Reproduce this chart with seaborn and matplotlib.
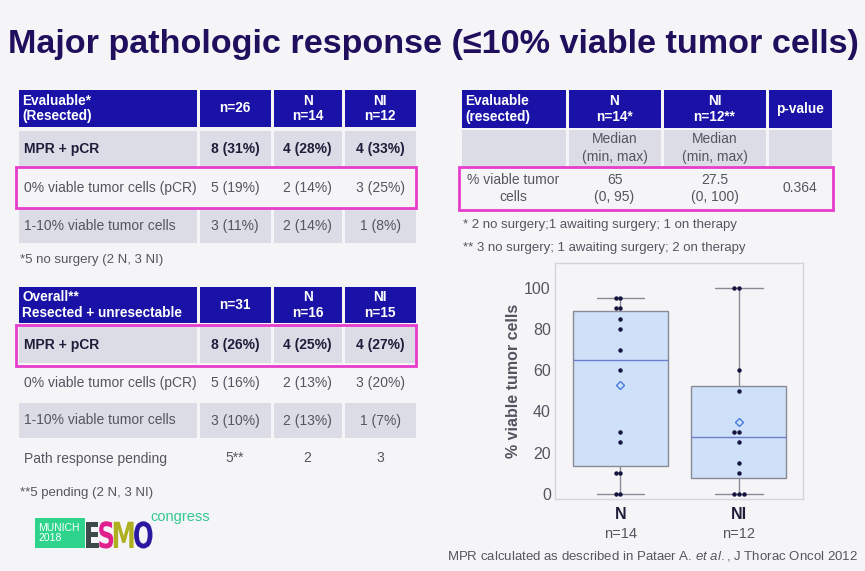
import matplotlib
matplotlib.use('Agg')
import matplotlib.pyplot as plt
from matplotlib.patches import Rectangle, PathPatch
from matplotlib.textpath import TextPath
from matplotlib.font_manager import FontProperties
from matplotlib.transforms import Affine2D
import seaborn as sns
import pandas as pd

# --- data ---
title = 'Major pathologic response (\u226410% viable tumor cells)'

t1_header = ['Evaluable*\n(Resected)', 'n=26', 'N\nn=14', 'NI\nn=12']
t1_labels = ['MPR + pCR', '0% viable tumor cells (pCR)', '1-10% viable tumor cells']
t1_all = ['8 (31%)', '5 (19%)', '3 (11%)']
t1_n = ['4 (28%)', '2 (14%)', '2 (14%)']
t1_ni = ['4 (33%)', '3 (25%)', '1 (8%)']
t1_note = '*5 no surgery (2 N, 3 NI)'

t2_header = ['Overall**\nResected + unresectable', 'n=31', 'N\nn=16', 'NI\nn=15']
t2_labels = ['MPR + pCR', '0% viable tumor cells (pCR)', '1-10% viable tumor cells',
             'Path response pending']
t2_all = ['8 (26%)', '5 (16%)', '3 (10%)', '5**']
t2_n = ['4 (25%)', '2 (13%)', '2 (13%)', '2']
t2_ni = ['4 (27%)', '3 (20%)', '1 (7%)', '3']
t2_note = '**5 pending (2 N, 3 NI)'

t3_header = ['Evaluable\n(resected)', 'N\nn=14*', 'NI\nn=12**', 'p-value']
t3_sub = ['', 'Median\n(min, max)', 'Median\n(min, max)', '']
t3_row = ['% viable tumor\ncells', '65\n(0, 95)', '27.5\n(0, 100)', '0.364']
t3_notes = ['* 2 no surgery;1 awaiting surgery; 1 on therapy',
            '** 3 no surgery; 1 awaiting surgery; 2 on therapy']

arms = ['N', 'NI']
arm_n = [14, 12]
viable_N = [0, 0, 10, 10, 25, 30, 60, 70, 80, 85, 90, 90, 95, 95]
viable_NI = [0, 0, 0, 10, 15, 25, 30, 30, 50, 60, 100, 100]

caption = 'MPR calculated as described in Pataer A. $\\it{et\\ al.}$, J Thorac Oncol 2012'

# --- style ---
sns.set_style('white')
plt.rcParams['font.family'] = ['Liberation Sans', 'DejaVu Sans']
plt.rcParams['mathtext.fontset'] = 'custom'
plt.rcParams['mathtext.rm'] = 'Liberation Sans'
plt.rcParams['mathtext.it'] = 'Liberation Sans:italic'

BG = '#f5f5f8'
HEAD = '#1a12a6'
GRAY = '#dcdce7'
PINK = '#e83ccc'
DARK = '#1e1e3a'
TXT = '#555560'

W, H = 865, 571
fig = plt.figure(figsize=(8.65, 5.71), dpi=100, facecolor=BG)

# overlay axes in pixel coordinates for the slide content
ov = fig.add_axes([0, 0, 1, 1])
ov.set_xlim(0, W)
ov.set_ylim(H, 0)
ov.axis('off')

ov.text(8, 44, title, fontsize=24.6, fontweight='bold', color='#1f0f5c',
        va='center', ha='left')


def draw_table(header, rows, xedges, head_y, row_ys, row_bg, row_bold, left_first=True):
    gap = 1.5
    for j in range(4):
        x0, x1 = xedges[j] + gap, xedges[j + 1] - gap
        ov.add_patch(Rectangle((x0, head_y[0]), x1 - x0, head_y[1] - head_y[0],
                               facecolor=HEAD, edgecolor='none'))
        if j == 0:
            ov.text(x0 + 4, (head_y[0] + head_y[1]) / 2, header[j], color='white',
                    fontsize=9.8, fontweight='bold', va='center', ha='left',
                    linespacing=1.15)
        else:
            ov.text((x0 + x1) / 2, (head_y[0] + head_y[1]) / 2, header[j],
                    color='white', fontsize=9.8, fontweight='bold', va='center',
                    ha='center', linespacing=1.15)
    for i, row in enumerate(rows):
        y0, y1 = row_ys[i]
        for j in range(4):
            x0, x1 = xedges[j] + gap, xedges[j + 1] - gap
            if row_bg[i]:
                ov.add_patch(Rectangle((x0, y0), x1 - x0, y1 - y0,
                                       facecolor=GRAY, edgecolor='none'))
            col = DARK if row_bold[i] else TXT
            fw = 'bold' if row_bold[i] else 'normal'
            if j == 0 and left_first:
                ov.text(x0 + 6, (y0 + y1) / 2, row[j], color=col, fontsize=10,
                        fontweight=fw, va='center', ha='left')
            else:
                ov.text((x0 + x1) / 2, (y0 + y1) / 2, row[j], color=col,
                        fontsize=10, fontweight=fw, va='center', ha='center',
                        linespacing=1.35)


def pink_box(x0, x1, y0, y1):
    ov.add_patch(Rectangle((x0, y0), x1 - x0, y1 - y0, facecolor='none',
                           edgecolor=PINK, lw=2))


# table 1
xl = [17, 198, 272, 343, 417]
rows1 = [list(r) for r in zip(t1_labels, t1_all, t1_n, t1_ni)]
draw_table(t1_header, rows1, xl, (90, 127),
           [(131, 166), (170, 206), (209, 243)],
           [True, False, True], [True, False, False])
pink_box(16, 416, 167, 208)
ov.text(20, 260, t1_note, fontsize=9.5, color=TXT, va='center')

# table 2
rows2 = [list(r) for r in zip(t2_labels, t2_all, t2_n, t2_ni)]
draw_table(t2_header, rows2, xl, (287, 323),
           [(326, 363), (366, 400), (403, 438), (441, 476)],
           [True, False, True, False], [True, False, False, False])
pink_box(16, 416, 325, 366)
ov.text(20, 493, t2_note, fontsize=9.5, color=TXT, va='center')

# table 3
xr = [460, 567, 662, 767, 833]
draw_table(t3_header, [t3_sub, t3_row], xr, (90, 128),
           [(130, 166), (168, 209)], [True, False], [False, False],
           left_first=False)
pink_box(459, 833, 167, 210)
for k, note in enumerate(t3_notes):
    ov.text(463, 225 + 23 * k, note, fontsize=9.5, color=TXT, va='center')

# logo: green tag, condensed ESMO letters, "congress"
ov.add_patch(Rectangle((35, 518), 50, 30, facecolor='#2ed48c', edgecolor='none'))
ov.text(38, 533, 'MUNICH\n2018', color='white', fontsize=7.5, va='center',
        ha='left', linespacing=1.0)
fp = FontProperties(family='DejaVu Sans', weight='bold')
xpos = 86
for ch, c in zip('ESMO', ['#3d4a4a', '#e0208c', '#aeb020', '#2a18a0']):
    tp = TextPath((0, 0), ch, size=36, prop=fp)
    ext = tp.get_extents()
    tr = Affine2D().translate(-ext.x0, 0).scale(0.68, -1).translate(xpos, 548)
    ov.add_patch(PathPatch(tr.transform_path(tp), facecolor=c, edgecolor='none'))
    xpos += ext.width * 0.68 + 0.5
ov.text(xpos - 3, 517, 'congress', color='#30c890', fontsize=10.5, va='center',
        ha='left')

ov.text(858, 556, caption, fontsize=9.5, color=TXT, va='center', ha='right')

# --- boxplot ---
df = pd.DataFrame({
    'arm': ['N'] * len(viable_N) + ['NI'] * len(viable_NI),
    'viable': viable_N + viable_NI,
})

ax = fig.add_axes([555 / W, (H - 499) / H, 248 / W, (499 - 263) / H])
ax.set_facecolor(BG)
sns.boxplot(data=df, x='arm', y='viable', order=arms, whis=(0, 100), width=0.8,
            color='#cfe1f8', saturation=1, linecolor='#8a8a96', linewidth=1,
            fliersize=0, showmeans=True,
            meanprops=dict(marker='D', markerfacecolor='none',
                           markeredgecolor='#4a7ae0', markersize=4.5),
            medianprops=dict(color='#6a7ed0', linewidth=1),
            ax=ax)
sns.swarmplot(data=df, x='arm', y='viable', order=arms, color='#15153f',
              size=3.2, ax=ax)

ax.set_xlim(-0.55, 1.54)
ax.set_ylim(-2.5, 112)
ax.set_yticks([0, 20, 40, 60, 80, 100])
ax.tick_params(axis='y', labelsize=11.5, labelcolor=TXT, length=0, pad=3)
ax.tick_params(axis='x', labelsize=11.5, length=0, pad=6)
ax.set_xticks([0, 1])
ax.set_xticklabels(arms, fontweight='bold', color=DARK)
for i, n in enumerate(arm_n):
    ax.annotate(f'n={n}', xy=(i, 0), xycoords=('data', 'axes fraction'),
                xytext=(0, -25), textcoords='offset points', ha='center',
                va='center', fontsize=10.5, color=TXT)
ax.set_xlabel('')
ax.set_ylabel('% viable tumor cells', fontsize=11.5, fontweight='bold',
              color=TXT, labelpad=2)
for s in ax.spines.values():
    s.set_color('#d4d4da')
    s.set_linewidth(1)

fig.savefig('out.png', dpi=100, facecolor=BG)
